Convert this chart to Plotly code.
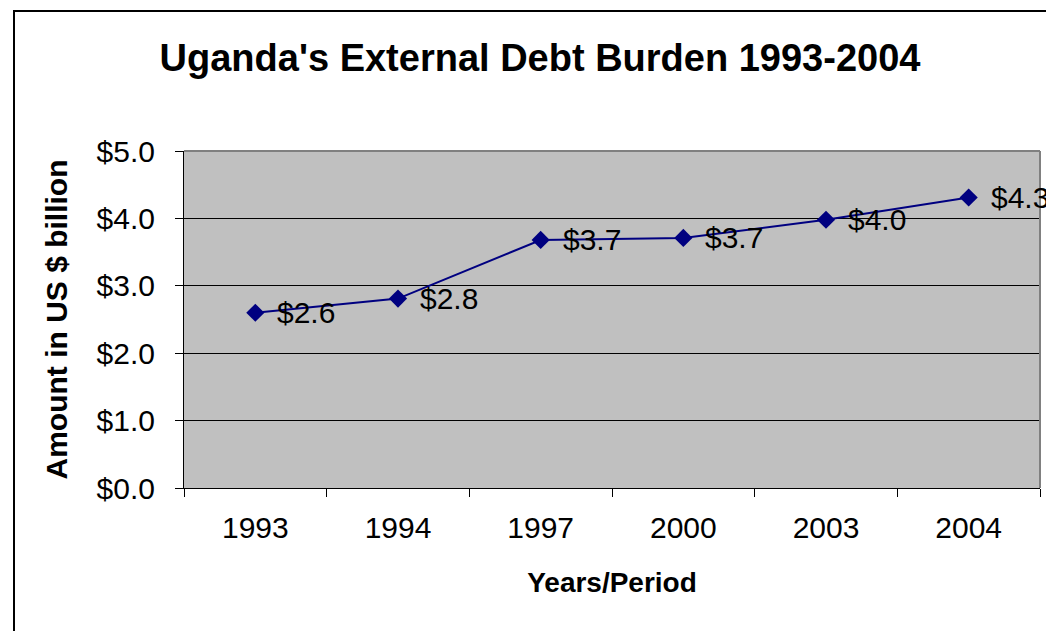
import plotly.graph_objects as go

years = ["1993", "1994", "1997", "2000", "2003", "2004"]
debt = [2.60, 2.81, 3.68, 3.71, 3.98, 4.31]
labels = ["$2.6", "$2.8", "$3.7", "$3.7", "$4.0", "$4.3"]
y_ticks = [0, 1, 2, 3, 4, 5]
y_tick_text = ["$0.0", "$1.0", "$2.0", "$3.0", "$4.0", "$5.0"]

FONT = "Liberation Sans, Arial, sans-serif"
NAVY = "#000080"

# page body has an 8px margin; compensate so the plot lands where the reference has it
OFF = 8
W, H = 1054 - OFF, 631 - OFF
L, T = 184 - OFF, 151 - OFF
R, B = W - (1040 - OFF), H - (488 - OFF)
PW, PH = 1040 - 184, 488 - 151

fig = go.Figure()
fig.add_trace(go.Scatter(
    x=years, y=debt, mode="lines+markers",
    line=dict(color=NAVY, width=2),
    marker=dict(symbol="diamond", size=14, color=NAVY),
    cliponaxis=False, showlegend=False,
))

# data labels: placed by category index on the category axis
annotations = [
    dict(x=i, y=v, text=lab, xref="x", yref="y", showarrow=False,
         xanchor="left", yanchor="middle", xshift=20,
         font=dict(family=FONT, size=30, color="black"))
    for i, (v, lab) in enumerate(zip(debt, labels))
]

fig.update_layout(
    width=W, height=H,
    margin=dict(l=L, r=R, t=T, b=B),
    paper_bgcolor="white", plot_bgcolor="#C0C0C0",
    font=dict(family=FONT, color="black"),
    title=dict(text="<b>Uganda's External Debt Burden 1993-2004</b>",
               x=(540 - OFF) / W, xanchor="center", xref="container",
               y=1 - (58 - OFF) / H, yanchor="middle", yref="container",
               font=dict(family=FONT, size=38, color="black")),
    xaxis=dict(
        type="category", categoryorder="array", categoryarray=years,
        range=[-0.5, len(years) - 0.5],
        tickson="boundaries", ticks="outside", ticklen=8,
        tickcolor="black", showline=True, linecolor="black", linewidth=1,
        showgrid=False, ticklabelstandoff=13, tickangle=0,
        tickfont=dict(family=FONT, size=30, color="black"),
        title=dict(text="<b>Years/Period</b>", standoff=29,
                   font=dict(family=FONT, size=28, color="black")),
    ),
    yaxis=dict(
        range=[0, 5], tickvals=y_ticks, ticktext=y_tick_text,
        ticks="outside", ticklen=8, tickcolor="black",
        showline=True, linecolor="black", linewidth=1,
        showgrid=True, gridcolor="black", gridwidth=1, zeroline=False,
        ticklabelstandoff=14,
        tickfont=dict(family=FONT, size=30, color="black"),
        title=dict(text="<b>Amount in US $ billion</b>", standoff=20,
                   font=dict(family=FONT, size=30, color="black")),
    ),
    annotations=annotations,
    shapes=[
        dict(type="line", xref="paper", yref="paper", x0=0, x1=1, y0=1, y1=1,
             line=dict(color="#808080", width=2)),
        dict(type="line", xref="paper", yref="paper", x0=1, x1=1, y0=0, y1=1,
             line=dict(color="#808080", width=2)),
        dict(type="rect", xref="paper", yref="paper",
             x0=(14 - 184) / PW, x1=1.2, y0=-0.6, y1=(488 - 11) / PH,
             line=dict(color="black", width=2), layer="below"),
    ],
)

fig.write_html("out.html")
